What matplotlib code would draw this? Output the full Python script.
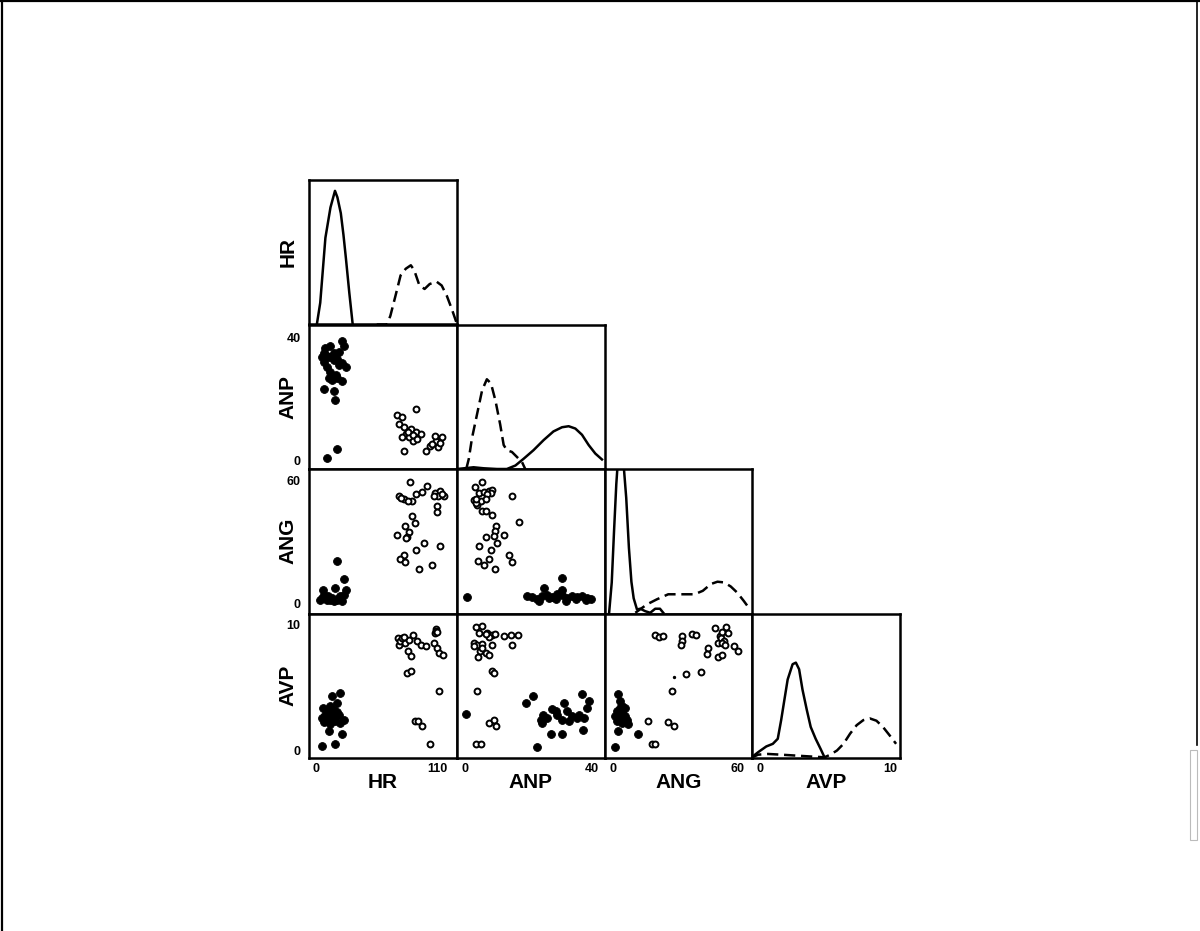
import matplotlib
matplotlib.use("Agg")
import matplotlib.pyplot as plt
from matplotlib.lines import Line2D
from matplotlib.patches import Rectangle

plt.rcParams['font.family'] = ['Liberation Sans', 'DejaVu Sans']

# ---------------- data ----------------
variables = ["HR", "ANP", "ANG", "AVP"]
tick_values = {"HR": [0, 110], "ANP": [0, 40], "ANG": [0, 60], "AVP": [0, 10]}
x_limits = {"HR": (-6.5, 127.7), "ANP": (-2.5, 44.1), "ANG": (-4.3, 67.1), "AVP": (-0.6, 10.75)}
y_limits = {"ANP": (-2.6, 44.3), "ANG": (-4.9, 65.4), "AVP": (-0.63, 10.87)}

# density curves (diagonal); heights relative to panel height
hr_dens_solid_x = [0.6, 3.7, 8.4, 13.0, 17.1, 19.3, 22.4, 24.8, 27.0, 30.1, 33.2]
hr_dens_solid_y = [0, 0.15, 0.60, 0.81, 0.925, 0.88, 0.77, 0.62, 0.46, 0.22, 0]
hr_dens_dash_x = [55.0, 64.3, 67.4, 72.1, 76.7, 81.4, 86.0, 89.1, 93.8, 98.5, 103.1, 109.3, 114.0, 118.6, 123.3, 127.5]
hr_dens_dash_y = [0, 0, 0.06, 0.20, 0.34, 0.386, 0.41, 0.375, 0.27, 0.246, 0.28, 0.297, 0.27, 0.20, 0.105, 0.012]

anp_dens_solid_x = [-2.4, 0.7, 2.8, 6.0, 10.2, 13.3, 16.0, 18.6, 21.7, 24.9, 28.0, 30.7, 32.8, 34.9, 37.0, 39.1, 41.2, 43.3]
anp_dens_solid_y = [0, 0.007, 0.012, 0.005, 0, 0, 0.024, 0.071, 0.13, 0.20, 0.26, 0.289, 0.296, 0.28, 0.237, 0.166, 0.107, 0.066]
anp_dens_dash_x = [0.5, 1.3, 2.3, 3.9, 5.5, 7.0, 8.3, 9.7, 11.2, 12.3, 13.3, 14.9, 16.5, 18.1, 19.1]
anp_dens_dash_y = [0, 0.07, 0.213, 0.379, 0.545, 0.621, 0.592, 0.474, 0.308, 0.166, 0.13, 0.118, 0.083, 0.047, 0]

ang_dens_solid_x = [-2.1, -0.8, 0.3, 1.4, 1.9, 3.5, 5.1, 6.2, 7.5, 8.7, 9.8, 11.4, 13.0, 15.4, 17.8, 20.2, 22.5, 24.1]
ang_dens_solid_y = [0, 0.215, 0.567, 0.895, 1.0, 1.25, 1.0, 0.80, 0.454, 0.22, 0.105, 0.028, 0.033, 0.016, 0.005, 0.033, 0.033, 0.005]
ang_dens_dash_x = [10.6, 16.2, 21.0, 26.5, 32.9, 39.2, 43.2, 47.1, 50.3, 53.5, 56.7, 59.8, 63.0, 65.4]
ang_dens_dash_y = [0.005, 0.063, 0.098, 0.133, 0.133, 0.133, 0.157, 0.204, 0.22, 0.215, 0.187, 0.145, 0.087, 0.04]

avp_dens_solid_x = [-0.71, -0.15, 0.48, 0.98, 1.36, 1.62, 1.87, 2.12, 2.50, 2.75, 3.00, 3.26, 3.59, 3.89, 4.27, 4.65, 4.95]
avp_dens_solid_y = [0, 0.04, 0.08, 0.098, 0.133, 0.262, 0.403, 0.543, 0.649, 0.66, 0.614, 0.473, 0.333, 0.215, 0.133, 0.063, 0.005]
avp_dens_dash_x = [-0.71, -0.15, 0.61, 1.62, 2.88, 4.14, 4.95, 5.40, 5.91, 6.41, 6.92, 7.42, 7.93, 8.43, 8.94, 9.44, 9.95, 10.45]
avp_dens_dash_y = [0, 0.023, 0.028, 0.023, 0.016, 0.009, 0.005, 0.023, 0.052, 0.098, 0.169, 0.227, 0.262, 0.274, 0.258, 0.215, 0.157, 0.098]

# scatter panels: filled = group 1 (solid density), open = group 2 (dashed density)
anp_hr_filled_x = [23.9, 25.5, 20.8, 16.2, 8.4, 13.0, 11.5, 5.3, 6.8, 16.2, 23.9, 27.0, 9.9, 13.0, 19.3, 14.6, 23.9, 6.8, 16.2, 16.8, 19.3, 9.9, 7, 10, 19, 21, 12, 18]
anp_hr_filled_y = [38.8, 37.2, 35.5, 35.2, 36.6, 37.2, 33.9, 33.9, 32.2, 32.8, 31.9, 30.6, 30.6, 29.0, 26.8, 26.4, 25.9, 23.5, 22.6, 19.7, 4.0, 0.9, 35, 34, 33, 31, 27, 28]
anp_hr_open_x = [90.7, 73.6, 78.3, 75.2, 86.1, 81.4, 90.7, 95.4, 84.5, 78.3, 87.6, 79.8, 100.0, 103.1, 109.3, 114.0, 110.9, 107.8, 112.5, 83, 88, 105, 80, 92]
anp_hr_open_y = [16.9, 14.8, 14.2, 12.0, 10.4, 8.7, 9.3, 8.7, 7.7, 7.7, 6.6, 3.3, 3.3, 4.9, 6.6, 7.7, 4.4, 8.2, 6.0, 9.5, 8.5, 5.5, 11, 7]

ang_hr_filled_x = [6.5, 16.8, 26.7, 5.0, 9.6, 14.3, 18.9, 23.6, 11.2, 22.1, 7.5, 25.2, 3.4, 15.8, 20.5, 12.7, 18.9, 25.2]
ang_hr_filled_y = [6.3, 7.5, 6.7, 2.6, 1.8, 2.6, 1.8, 1.0, 3.4, 3.4, 4.2, 4.2, 1.8, 1.0, 2.6, 1.8, 20.5, 12.0]
ang_hr_open_x = [85.1, 100.3, 74.9, 79.5, 86.7, 90.7, 95.7, 108.1, 112.1, 116.2, 110.6, 110.0, 110.0, 86.7, 89.5, 80.5, 73.3, 84.2, 82.6, 82.0, 97.5, 112.8, 91.0, 79.5, 76.4, 80.5, 93.8, 105.6, 77.0, 83.0, 107.0, 114.0]
ang_hr_open_y = [59.0, 57.1, 52.5, 50.6, 49.8, 53.0, 54.1, 53.5, 54.6, 52.2, 52.2, 47.6, 44.4, 42.4, 39.2, 37.9, 33.2, 34.6, 32.4, 31.9, 29.4, 28.1, 26.2, 23.7, 21.6, 20.0, 16.9, 18.5, 51.5, 50.0, 52.5, 53.2]

ang_anp_filled_x = [0.84, 30.76, 24.99, 30.76, 19.74, 21.31, 22.89, 24.46, 26.04, 27.61, 29.19, 30.76, 32.34, 33.91, 35.49, 37.06, 38.64, 39.69, 28.66, 31.81, 23.41, 26.56, 34.96, 38.11]
ang_anp_filled_y = [2.9, 12.4, 7.5, 6.7, 3.4, 2.9, 2.1, 3.4, 4.2, 3.1, 4.7, 4.2, 2.6, 3.7, 3.1, 3.4, 2.6, 2.3, 2.1, 1.0, 1.3, 2.6, 2.1, 1.5]
ang_anp_open_x = [3.25, 5.35, 4.51, 6.09, 7.66, 8.50, 8.19, 7.14, 2.94, 3.99, 5.04, 6.82, 15.01, 5.56, 6.82, 8.50, 17.11, 9.76, 9.55, 9.24, 6.61, 12.39, 10.29, 4.51, 8.19, 13.96, 7.66, 14.80, 4.30, 6.09, 9.55, 3.67, 3.46]
ang_anp_open_y = [56.7, 59.0, 53.8, 54.1, 54.6, 55.1, 53.8, 53.0, 50.1, 48.1, 49.8, 50.6, 52.5, 44.9, 44.9, 42.8, 39.5, 37.9, 35.1, 32.7, 32.4, 33.5, 29.4, 27.8, 26.2, 23.7, 21.6, 20.2, 20.5, 18.5, 16.9, 48.9, 50.9]

avp_hr_filled_x = [22.1, 14.3, 18.9, 6.5, 11.2, 5.0, 9.6, 15.8, 20.5, 25.2, 12.7, 17.4, 8.1, 22.1, 11.8, 23.6, 16.8, 5.6, 13, 10, 14, 19, 7, 16]
avp_hr_filled_y = [4.55, 4.29, 3.76, 3.36, 3.10, 2.57, 2.43, 2.70, 2.83, 2.43, 2.04, 2.30, 2.83, 2.17, 1.51, 1.30, 0.50, 0.32, 3.5, 2.7, 2.6, 3.0, 2.2, 3.2]
avp_hr_open_x = [88.2, 91.3, 95.1, 99.7, 74.9, 83.3, 85.7, 82.6, 85.7, 106.9, 110.0, 111.2, 115.3, 111.5, 89.5, 92.6, 96.0, 103.8, 73.9, 79.5, 109.0, 108.1, 76, 78, 81, 84, 80, 108.5, 110]
avp_hr_open_y = [9.13, 8.70, 8.39, 8.25, 8.39, 7.91, 7.46, 6.14, 6.27, 8.52, 8.12, 7.72, 7.54, 4.68, 2.30, 2.35, 1.90, 0.45, 8.92, 8.60, 9.66, 9.31, 8.7, 8.9, 8.5, 8.8, 9.0, 9.5, 9.4]

avp_anp_filled_x = [0.53, 19.42, 21.52, 37.06, 24.67, 27.61, 31.29, 32.34, 29.19, 30.76, 24.46, 33.91, 36.01, 38.64, 39.16, 37.59, 27.09, 30.55, 37.38, 22.68, 26.04, 32.86, 35.49, 28.66, 23.94]
avp_anp_filled_y = [2.91, 3.76, 4.34, 4.47, 2.83, 3.23, 3.76, 3.10, 2.83, 2.43, 2.17, 2.70, 2.83, 3.36, 3.89, 2.57, 1.30, 1.30, 1.56, 0.26, 2.57, 2.30, 2.57, 3.10, 2.43]
avp_anp_open_x = [3.67, 5.56, 4.51, 7.14, 8.50, 9.55, 7.66, 12.39, 14.49, 16.90, 14.80, 2.94, 3.99, 5.56, 8.50, 4.72, 6.61, 7.66, 4.30, 8.50, 9.24, 3.99, 7.66, 9.24, 9.76, 3.67, 5.04, 6.61, 2.94, 5.35]
avp_anp_open_y = [9.76, 9.84, 9.31, 9.31, 9.18, 9.23, 8.97, 9.05, 9.18, 9.13, 8.39, 8.52, 8.39, 8.44, 8.33, 7.91, 7.72, 7.54, 7.38, 6.27, 6.14, 4.68, 2.17, 2.43, 1.90, 0.45, 0.45, 9.23, 8.25, 8.12]

avp_ang_filled_x = [2.38, 3.17, 3.97, 5.56, 1.59, 4.76, 0.79, 3.17, 6.35, 1.59, 7.14, 3.97, 2.38, 11.90, 0.79, 3.17, 5.56]
avp_ang_filled_y = [4.47, 3.89, 3.49, 3.36, 3.10, 2.83, 2.70, 2.57, 2.43, 2.30, 2.04, 2.17, 1.51, 1.30, 0.26, 3.36, 2.70]
avp_ang_open_x = [20.32, 22.22, 24.13, 33.33, 33.02, 32.54, 37.78, 39.68, 48.89, 54.29, 51.59, 52.70, 55.24, 58.41, 60.00, 45.71, 45.24, 50.48, 52.70, 35.24, 42.54, 28.10, 16.67, 26.51, 29.05, 18.73, 20.32, 50.79, 51.8, 53.3, 52.4, 54.0]
avp_ang_open_y = [9.18, 8.97, 9.05, 9.05, 8.70, 8.39, 9.23, 9.13, 9.71, 9.76, 9.05, 9.39, 9.31, 8.25, 7.91, 8.12, 7.65, 7.38, 7.54, 6.06, 6.19, 4.68, 2.35, 2.25, 1.90, 0.45, 0.50, 8.52, 8.9, 8.7, 8.5, 8.4]
avp_ang_dot_x = [29.37]
avp_ang_dot_y = [5.79]

# ---------------- layout ----------------
W, H = 1200, 931
fig = plt.figure(figsize=(W / 100, H / 100), dpi=100)
fig.patch.set_facecolor("white")

col_edges = [309, 456.75, 604.5, 752.25, 900]
row_edges = [180, 324.5, 469, 613.5, 758]

LW_SPINE = 1.8
LW_CURVE = 1.8
DASH = (4.5, 2.3)


def make_axes(r, c):
    x0, x1 = col_edges[c], col_edges[c + 1]
    y0, y1 = row_edges[r], row_edges[r + 1]
    ax = fig.add_axes([x0 / W, 1 - y1 / H, (x1 - x0) / W, (y1 - y0) / H])
    for s in ax.spines.values():
        s.set_linewidth(LW_SPINE)
        s.set_color("black")
    ax.tick_params(length=0)
    ax.set_xticks([])
    ax.set_yticks([])
    return ax


density = {
    "HR": (hr_dens_solid_x, hr_dens_solid_y, hr_dens_dash_x, hr_dens_dash_y),
    "ANP": (anp_dens_solid_x, anp_dens_solid_y, anp_dens_dash_x, anp_dens_dash_y),
    "ANG": (ang_dens_solid_x, ang_dens_solid_y, ang_dens_dash_x, ang_dens_dash_y),
    "AVP": (avp_dens_solid_x, avp_dens_solid_y, avp_dens_dash_x, avp_dens_dash_y),
}

scatter = {
    (1, 0): (anp_hr_filled_x, anp_hr_filled_y, anp_hr_open_x, anp_hr_open_y),
    (2, 0): (ang_hr_filled_x, ang_hr_filled_y, ang_hr_open_x, ang_hr_open_y),
    (2, 1): (ang_anp_filled_x, ang_anp_filled_y, ang_anp_open_x, ang_anp_open_y),
    (3, 0): (avp_hr_filled_x, avp_hr_filled_y, avp_hr_open_x, avp_hr_open_y),
    (3, 1): (avp_anp_filled_x, avp_anp_filled_y, avp_anp_open_x, avp_anp_open_y),
    (3, 2): (avp_ang_filled_x, avp_ang_filled_y, avp_ang_open_x, avp_ang_open_y),
}

TICK_FONT = dict(fontweight="bold", fontsize=9)
LABEL_FONT = dict(fontweight="bold", fontsize=15)

for r in range(4):
    for c in range(r + 1):
        ax = make_axes(r, c)
        xv = variables[c]
        yv = variables[r]
        ax.set_xlim(*x_limits[xv])
        if r == c:
            sx, sy, dx, dy = density[xv]
            ax.plot(sx, sy, color="black", lw=LW_CURVE, solid_joinstyle="round")
            ax.plot(dx, dy, color="black", lw=LW_CURVE, linestyle=(0, DASH))
            ax.set_ylim(0, 1)
        else:
            fx, fy, ox, oy = scatter[(r, c)]
            ax.scatter(ox, oy, s=18, facecolor="white", edgecolor="black", linewidths=1.4, zorder=3)
            ax.scatter(fx, fy, s=32, facecolor="black", edgecolor="black", linewidths=0.6, zorder=4)
            ax.set_ylim(*y_limits[yv])
            if (r, c) == (3, 2):
                ax.scatter(avp_ang_dot_x, avp_ang_dot_y, s=2, color="black", zorder=4)
        if r == 3:
            ax.set_xticks(tick_values[xv])
            ax.set_xticklabels([str(t) for t in tick_values[xv]], **TICK_FONT)
            ax.tick_params(axis="x", pad=3.5)
            ax.set_xlabel(xv, **LABEL_FONT)
            ax.xaxis.set_label_coords(0.5, -0.105)
        if c == 0:
            if r > 0:
                ax.set_yticks(tick_values[yv])
                ax.set_yticklabels([str(t) for t in tick_values[yv]], **TICK_FONT)
                ax.tick_params(axis="y", pad=6)
            ax.set_ylabel(yv, **LABEL_FONT)
            ax.yaxis.set_label_coords(-0.075, 0.5)

# figure frame (scan border)
fig.add_artist(Line2D([0.0015, 0.0015], [0.0, 1.0], transform=fig.transFigure, color="black", lw=1.6))
fig.add_artist(Line2D([0.0, 1.0], [0.9985, 0.9985], transform=fig.transFigure, color="black", lw=1.6))
fig.add_artist(Line2D([0.9975, 0.9975], [0.2, 1.0], transform=fig.transFigure, color="black", lw=1.2))
fig.add_artist(Rectangle((1190 / W, 1 - 840 / H), 7 / W, 90 / H, transform=fig.transFigure,
                         facecolor="none", edgecolor="#bbbbbb", lw=0.8))

fig.savefig("out.png", dpi=100, facecolor="white")
